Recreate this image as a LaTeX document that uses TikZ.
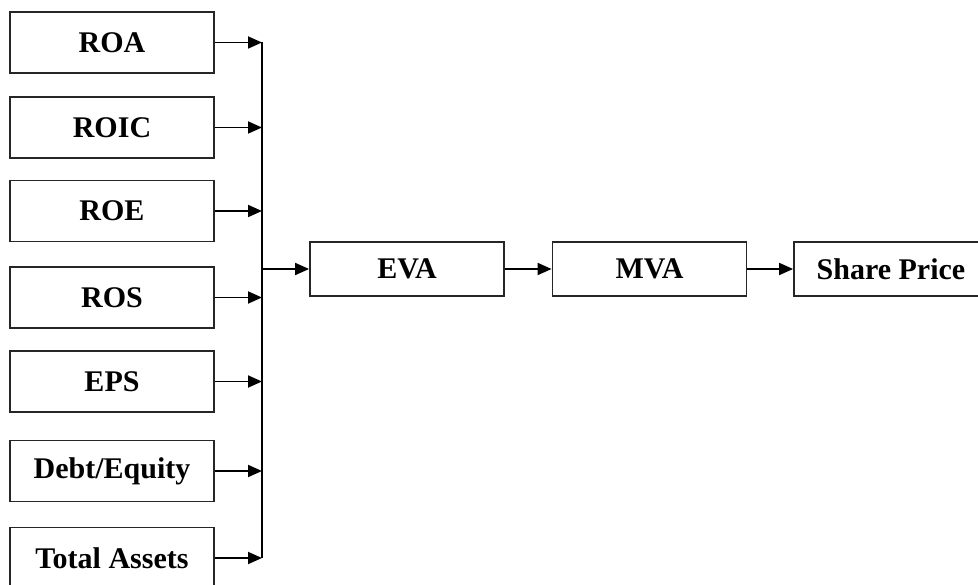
\documentclass[tikz,border=0pt]{standalone}
\usepackage{fontspec}
\setmainfont{Liberation Serif}
\usetikzlibrary{arrows.meta}
\tikzset{
  box/.style={draw=black!85, line width=1.8pt, rectangle, inner sep=0pt,
    font=\fontsize{30}{36}\selectfont\bfseries, text=black},
  lbox/.style={box, minimum width=204pt, minimum height=61pt},
  rbox/.style={box, minimum width=194pt, minimum height=54pt},
  conn/.style={line width=1.8pt, black},
  arr/.style={conn, -{Triangle[length=14pt,width=12pt]}}
}
\begin{document}
\begin{tikzpicture}[x=1pt,y=-1pt]
\clip (0,0) rectangle (978,585);
\fill[white] (0,0) rectangle (978,585);
\node[lbox] (roa) at (112,42.5) {ROA};
\node[lbox] (roic) at (112,127.5) {ROIC};
\node[lbox] (roe) at (112,211) {ROE};
\node[lbox] (ros) at (112,297.5) {ROS};
\node[lbox] (eps) at (112,381.5) {EPS};
\node[lbox] (de) at (112,471) {Debt/Equity};
\node[lbox] (ta) at (112,558) {Total Assets};
\node[rbox] (eva) at (407,269) {EVA};
\node[rbox] (mva) at (649.5,269) {MVA};
\node[rbox] (sp) at (891,269) {Share Price};
\coordinate (bus) at (262,0);
\foreach \n in {roa,roic,roe,ros,eps,de,ta}{
  \draw[arr] (\n.east) -- (\n.east -| bus);
}
\draw[conn] (roa.east -| bus) -- (ta.east -| bus);
\draw[arr] (eva.west -| bus) -- (eva.west);
\draw[arr] (eva.east) -- (mva.west);
\draw[arr] (mva.east) -- (sp.west);
\end{tikzpicture}
\end{document}
